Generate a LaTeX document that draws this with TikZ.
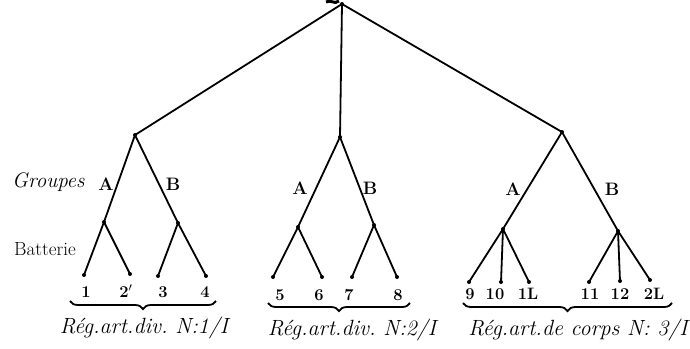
\documentclass[tikz,border=0pt]{standalone}
\usepackage{fontspec}
\usetikzlibrary{decorations.pathreplacing}
\frenchspacing
\begin{document}
\begin{tikzpicture}[x=1pt,y=-1pt,
  line width=1.8pt,
  dot/.style={circle,fill=black,inner sep=0pt,minimum size=4pt},
  num/.style={font=\bfseries\fontsize{16.5}{17}\selectfont},
  grp/.style={font=\bfseries\fontsize{18}{19}\selectfont},
  side/.style={font=\itshape\fontsize{21}{22}\selectfont,anchor=west},
  reg/.style={font=\itshape\fontsize{22}{24}\selectfont},
  brc/.style={decorate,decoration={brace,mirror,amplitude=8pt},line width=1.8pt}]
\useasboundingbox (0,0) rectangle (690,348);
% cut-off mark at the top
\draw[line width=3pt] (326,2) .. controls (331,-1) and (334,5) .. (339,1);
% nodes
\node[dot] (root) at (342,4) {};
\node[dot] (r1) at (135,135) {};
\node[dot] (r2) at (340,137) {};
\node[dot] (r3) at (562,132) {};
\node[dot] (a1) at (104,222) {};
\node[dot] (b1) at (178,223) {};
\node[dot] (a2) at (298,227) {};
\node[dot] (b2) at (374,225) {};
\node[dot] (a3) at (503,229) {};
\node[dot] (b3) at (618,231) {};
\node[dot] (l1) at (84,275) {};
\node[dot] (l2) at (130,274) {};
\node[dot] (l3) at (158,276) {};
\node[dot] (l4) at (206,276) {};
\node[dot] (l5) at (273,277) {};
\node[dot] (l6) at (322,277) {};
\node[dot] (l7) at (352,277) {};
\node[dot] (l8) at (397,277) {};
\node[dot] (l9) at (469,282) {};
\node[dot] (l10) at (501,282) {};
\node[dot] (l1L) at (529,282) {};
\node[dot] (l11) at (589,282) {};
\node[dot] (l12) at (620,281) {};
\node[dot] (l2L) at (650,280) {};
% connectors
\draw (root.center) -- (r1.center);
\draw (root.center) -- (r2.center);
\draw (root.center) -- (r3.center);
\draw (r1.center) -- (a1.center) -- (l1.center);
\draw (a1.center) -- (l2.center);
\draw (r1.center) -- (b1.center) -- (l4.center);
\draw (b1.center) -- (l3.center);
\draw (r2.center) -- (a2.center) -- (l5.center);
\draw (a2.center) -- (l6.center);
\draw (r2.center) -- (b2.center) -- (l8.center);
\draw (b2.center) -- (l7.center);
\draw (r3.center) -- (a3.center) -- (l9.center);
\draw (a3.center) -- (l10.center);
\draw (a3.center) -- (l1L.center);
\draw (r3.center) -- (b3.center) -- (l2L.center);
\draw (b3.center) -- (l11.center);
\draw (b3.center) -- (l12.center);
% side labels
\node[side] (tgroupes) at (8,182) {Groupes};
\node[side,font=\fontsize{19}{20}\selectfont] (tbatt) at (10,249) {Batterie};
% group labels
\node[grp] (ga1) at (106,184) {A};
\node[grp] (gb1) at (173,184) {B};
\node[grp] (ga2) at (300,188) {A};
\node[grp] (gb2) at (370,188) {B};
\node[grp] (ga3) at (513,189) {A};
\node[grp] (gb3) at (612,189) {B};
% numbers
\node[num] (n1) at (86,292) {1};
\node[num] (n2) at (126,291) {2$'$};
\node[num] (n3) at (163,292) {3};
\node[num] (n4) at (205,292) {4};
\node[num] (n5) at (280,295) {5};
\node[num] (n6) at (319,295) {6};
\node[num] (n7) at (349,295) {7};
\node[num] (n8) at (398,295) {8};
\node[num] (n9) at (470,294) {9};
\node[num] (n10) at (495,294) {10};
\node[num] (n1L) at (528,294) {1L};
\node[num] (n11) at (590,294) {11};
\node[num] (n12) at (620,294) {12};
\node[num] (n2L) at (654,294) {2L};
% braces
\coordinate (bl1) at (70,301); \coordinate (br1) at (216,301);
\coordinate (bl2) at (268,303); \coordinate (br2) at (410,303);
\coordinate (bl3) at (463,303); \coordinate (br3) at (672,303);
\draw[brc] (bl1) -- (br1);
\draw[brc] (bl2) -- (br2);
\draw[brc] (bl3) -- (br3);
% regiment labels
\node[reg] (reg1) at (144,328) {Rég.art.div. N:1/I};
\node[reg] (reg2) at (352,330) {Rég.art.div. N:2/I};
\node[reg] (reg3) at (578,330) {Rég.art.de corps N: 3/I};
\end{tikzpicture}
\end{document}
